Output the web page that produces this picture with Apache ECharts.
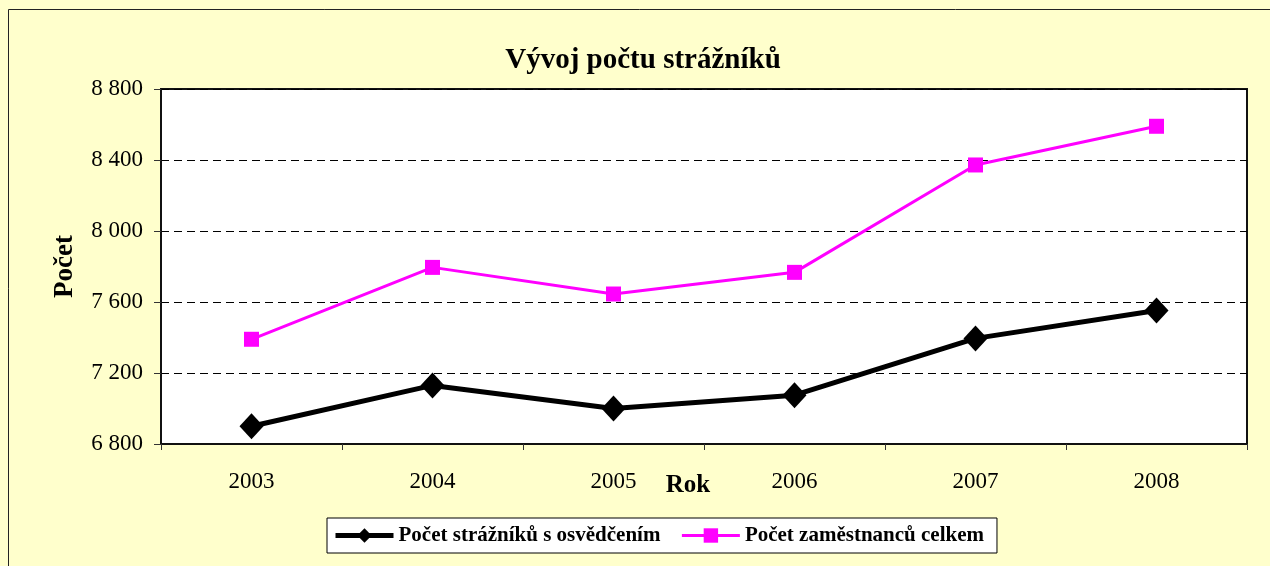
<!DOCTYPE html>
<html>
<head>
<meta charset="utf-8">
<script src="https://cdn.jsdelivr.net/npm/echarts@6/dist/echarts.min.js"></script>
<style>
html,body{margin:0;padding:0;background:#FFFFCC;}
#chart{width:1270px;height:566px;}
</style>
</head>
<body>
<div id="chart"></div>
<script>
var years = ['2003', '2004', '2005', '2006', '2007', '2008'];
var strazniciSOsvedcenim = [6900, 7130, 7000, 7075, 7395, 7552];
var zamestnanciCelkem = [7390, 7795, 7645, 7767, 8372, 8590];
var yTicks = [6800, 7200, 7600, 8000, 8400, 8800];

var FONT = '"Liberation Serif", "Times New Roman", serif';
var chart = echarts.init(document.getElementById('chart'), null, {renderer: 'canvas'});

function fmt(v) {
  return String(v).replace(/\B(?=(\d{3})+(?!\d))/g, ' ');
}

chart.setOption({
  backgroundColor: '#FFFFCC',
  animation: false,
  graphic: [{
    type: 'rect',
    shape: {x: 8.5, y: 9.5, width: 1400, height: 700},
    style: {fill: 'none', stroke: '#222', lineWidth: 1},
    silent: true
  }],
  title: {
    text: 'Vývoj počtu strážníků',
    left: 638,
    textAlign: 'center',
    top: 41,
    textStyle: {fontFamily: FONT, fontWeight: 'bold', fontSize: 29, color: '#000'}
  },
  grid: {
    left: 161, right: 23, top: 89, bottom: 122,
    show: true,
    backgroundColor: '#fff',
    borderColor: '#111',
    borderWidth: 2
  },
  legend: {
    left: 327,
    top: 518,
    width: 700,
    padding: [7, 13, 7, 6],
    itemGap: 20,
    itemWidth: 58,
    itemHeight: 18,
    backgroundColor: '#fff',
    borderColor: '#000',
    borderWidth: 1,
    textStyle: {fontFamily: FONT, fontWeight: 'bold', fontSize: 21, color: '#000'},
    data: [
      {name: 'Počet strážníků s osvědčením', lineStyle: {width: 5, color: '#000'}},
      {name: 'Počet zaměstnanců celkem', lineStyle: {width: 3, color: '#FF00FF'}}
    ]
  },
  xAxis: {
    type: 'category',
    data: years,
    boundaryGap: true,
    name: 'Rok',
    nameLocation: 'middle',
    nameGap: 29,
    nameMoveOverlap: false,
    nameTextStyle: {fontFamily: FONT, fontWeight: 'bold', fontSize: 25, color: '#000', padding: [0, 32, 0, 0]},
    axisLine: {show: true, lineStyle: {color: '#111', width: 2}},
    axisTick: {show: true, inside: false, length: 6, lineStyle: {color: '#333', width: 1}},
    axisLabel: {fontFamily: FONT, fontSize: 23, color: '#000', margin: 26},
    splitLine: {show: false}
  },
  yAxis: {
    type: 'value',
    min: 6800,
    max: 8800,
    interval: 400,
    name: 'Počet',
    nameLocation: 'middle',
    nameRotate: 90,
    nameGap: 82,
    nameMoveOverlap: false,
    nameTextStyle: {fontFamily: FONT, fontWeight: 'bold', fontSize: 27, color: '#000'},
    axisLine: {show: true, lineStyle: {color: '#111', width: 2}},
    axisTick: {show: true, inside: false, length: 7, lineStyle: {color: '#333', width: 1}},
    axisLabel: {fontFamily: FONT, fontSize: 23, color: '#000', margin: 18, formatter: fmt},
    splitLine: {show: true, lineStyle: {color: '#000', width: 1, type: [8, 5]}}
  },
  series: [{
    name: 'Počet strážníků s osvědčením',
    type: 'line',
    data: strazniciSOsvedcenim,
    symbol: 'diamond',
    symbolSize: [24, 26],
    lineStyle: {color: '#000', width: 5},
    itemStyle: {color: '#000'},
    z: 3
  }, {
    name: 'Počet zaměstnanců celkem',
    type: 'line',
    data: zamestnanciCelkem,
    symbol: 'rect',
    symbolSize: 15,
    lineStyle: {color: '#FF00FF', width: 3},
    itemStyle: {color: '#FF00FF'},
    z: 2
  }]
});
</script>
</body>
</html>
